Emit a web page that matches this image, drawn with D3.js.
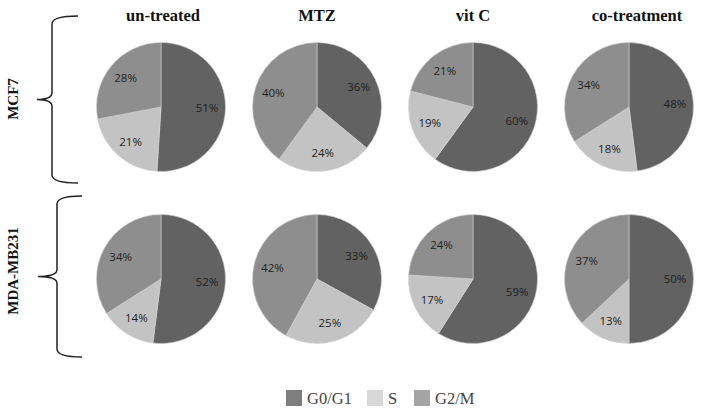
<!DOCTYPE html>
<html><head><meta charset="utf-8">
<script src="https://cdn.jsdelivr.net/npm/d3@7"></script>
<style>body{margin:0;background:#fff}</style>
</head><body>
<svg id="c" width="704" height="410"></svg>
<script>
const treatments = ["un-treated","MTZ","vit C","co-treatment"];
const cellLines = ["MCF7","MDA-MB231"];
const phases = ["G0/G1","S","G2/M"];
const mcf7_G0G1 = [51,36,60,48];
const mcf7_S    = [21,24,19,18];
const mcf7_G2M  = [28,40,21,34];
const mda_G0G1  = [52,33,59,50];
const mda_S     = [14,25,17,13];
const mda_G2M   = [34,42,24,37];

const rows = {
  "MCF7": [mcf7_G0G1, mcf7_S, mcf7_G2M],
  "MDA-MB231": [mda_G0G1, mda_S, mda_G2M]
};
const pieColor = d3.scaleOrdinal().domain(phases).range(["#626262","#c3c3c3","#8e8e8e"]);
const legColor = d3.scaleOrdinal().domain(phases).range(["#7e7e7e","#d8d8d8","#a4a4a4"]);

const svg = d3.select("#c");
const x = d3.scaleBand().domain(treatments).range([83,707]);
const y = d3.scaleBand().domain(cellLines).range([21,365]);
const R = 64.5;
const pie = d3.pie().sort(null).value(d=>d.v);
const arc = d3.arc().innerRadius(0).outerRadius(R);
const labArc = d3.arc().innerRadius(46).outerRadius(46);

// column titles
svg.selectAll("text.col").data(treatments).join("text")
  .attr("class","col")
  .attr("x", d=>x(d)+x.bandwidth()/2 + (d==="co-treatment"?8:(d==="un-treated"?2:0)))
  .attr("y", 21)
  .attr("text-anchor","middle")
  .attr("font-family","Liberation Serif, Times New Roman, serif")
  .attr("font-weight","bold")
  .attr("font-size",16.5)
  .attr("fill","#111")
  .text(d=>d);

cellLines.forEach(cl=>{
  const cy = y(cl)+y.bandwidth()/2;
  treatments.forEach((t,i)=>{
    const cx = x(t)+x.bandwidth()/2;
    const data = phases.map((p,k)=>({p, v: rows[cl][k][i]}));
    const g = svg.append("g").attr("transform",`translate(${cx},${cy})`);
    const arcs = pie(data);
    g.selectAll("path").data(arcs).join("path")
      .attr("d",arc)
      .attr("fill",d=>pieColor(d.data.p))
      .attr("stroke","#d0d0d0")
      .attr("stroke-width",0.6);
    g.selectAll("text").data(arcs).join("text")
      .attr("transform",d=>`translate(${labArc.centroid(d)})`)
      .attr("text-anchor","middle")
      .attr("dy","0.35em")
      .attr("font-family","Open Sans, Liberation Sans, sans-serif")
      .attr("font-size",11.5)
      .attr("fill","#1e1e1e")
      .text(d=>d.data.v+"%");
  });
  // row label
  svg.append("text")
    .attr("transform",`translate(18,${cy-8}) rotate(-90)`)
    .attr("text-anchor","middle")
    .attr("font-family","Liberation Serif, Times New Roman, serif")
    .attr("font-weight","bold")
    .attr("font-size",15)
    .attr("fill","#111")
    .text(cl);
});

// braces
function brace(top,bot,xv,xt,xe){
  const mid=(top+bot)/2;
  return `M${xe},${top} Q${xv},${top} ${xv},${top+8} L${xv},${mid-7} Q${xv},${mid} ${xt},${mid} Q${xv},${mid} ${xv},${mid+7} L${xv},${bot-8} Q${xv},${bot} ${xe},${bot}`;
}
svg.append("path").attr("d",brace(16,183,52,37,78)).attr("fill","none").attr("stroke","#222").attr("stroke-width",1.5);
svg.append("path").attr("d",brace(196,357,57,38,82)).attr("fill","none").attr("stroke","#222").attr("stroke-width",1.5);

// legend
const legX = [286,367,414];
const lg = svg.selectAll("g.leg").data(phases).join("g").attr("class","leg")
  .attr("transform",(d,i)=>`translate(${legX[i]},390)`);
lg.append("rect").attr("width",16).attr("height",16).attr("fill",d=>legColor(d));
lg.append("text").attr("x",21).attr("y",14)
  .attr("font-family","Liberation Serif, Times New Roman, serif")
  .attr("font-size",16.5).attr("fill","#444").text(d=>d);
</script>
</body></html>
